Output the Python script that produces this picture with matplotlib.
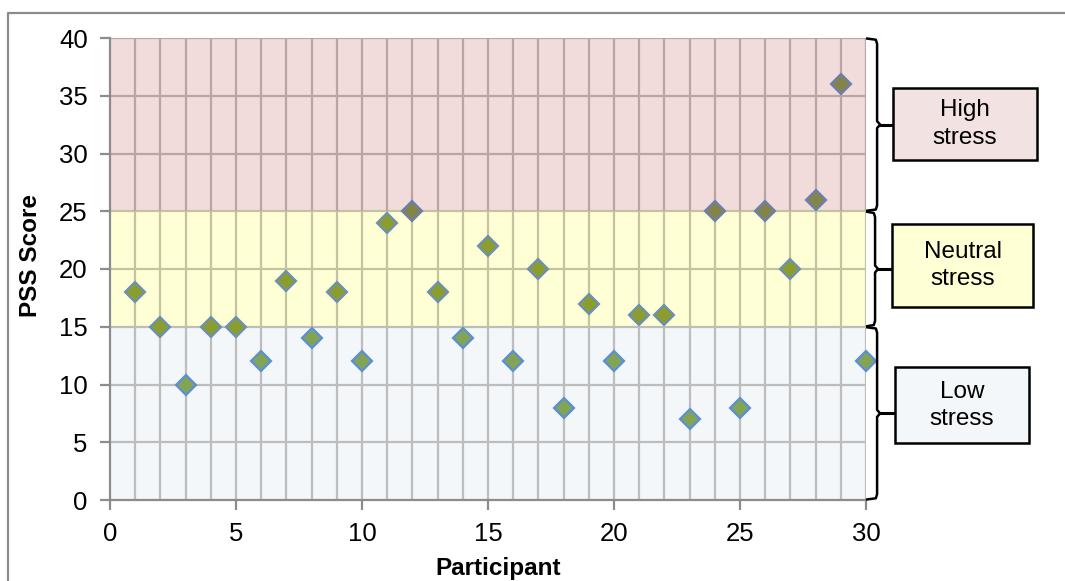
import matplotlib.pyplot as plt
from matplotlib.lines import Line2D
from matplotlib.patches import Rectangle
import numpy as np

plt.rcParams['font.family'] = ['Liberation Sans', 'DejaVu Sans']

# PSS score per participant
participants = list(range(1, 31))
pss = [18, 15, 10, 15, 15, 12, 19, 14, 18, 12,
       24, 25, 18, 14, 22, 12, 20, 8, 17, 12,
       16, 16, 7, 25, 8, 25, 20, 26, 36, 12]

# stress bands: name, low, high
band_names = ['Low\nstress', 'Neutral\nstress', 'High\nstress']
band_lo = [0, 15, 25]
band_hi = [15, 25, 40]
band_fill = ['#f3f7f9', '#ffffd5', '#f2dcdb']
band_grid = ['#bdbdbd', '#c4c3a0', '#bba4a4']
band_face = ['#83a455', '#8a9d2e', '#84834a']
band_edge = ['#5b8fd8', '#6c8fb5', '#6a7fb0']
box_fill = ['#f3f7f9', '#ffffd5', '#f2e2e2']

fig = plt.figure(figsize=(10.65, 5.81), dpi=100)
ax = fig.add_axes([110/1065, 81/581, 756/1065, 462/581])
ax.set_xlim(0, 30)
ax.set_ylim(0, 40)

for lo, hi, fc, gc in zip(band_lo, band_hi, band_fill, band_grid):
    ax.axhspan(lo, hi, color=fc, zorder=0, lw=0)
    ax.vlines(np.arange(1, 31), lo, hi, color=gc, lw=1.6, zorder=1)
    ax.hlines(np.arange(lo + 5, hi + 1, 5), 0, 30, color=gc, lw=1.6, zorder=1)

# points coloured by the band they sit in
for x, y in zip(participants, pss):
    i = 0 if y < 15 else (1 if y < 25 else 2)
    ax.plot(x, y, 'D', ms=10.5, mfc=band_face[i], mec=band_edge[i],
            mew=1.6, zorder=3, clip_on=False)

for s in ['top', 'right']:
    ax.spines[s].set_visible(False)
for s in ['left', 'bottom']:
    ax.spines[s].set_color('#8c8c8c')
    ax.spines[s].set_linewidth(1.6)
ax.set_xticks(range(0, 31, 5))
ax.set_yticks(range(0, 41, 5))
ax.tick_params(direction='out', length=7, width=1.6, color='#8c8c8c',
               labelsize=18.5, pad=9)

ax.set_ylabel('PSS Score', fontsize=17.5, fontweight='bold')
ax.yaxis.set_label_coords(-68/756, 0.53)
fig.text(498/1065, 1 - 568/581, 'Participant', fontsize=17.5,
         fontweight='bold', ha='center', va='center')

# braces and labelled boxes to the right of the plot
box_x = [(31.15, 36.47), (31.03, 36.63), (31.07, 36.79)]
box_y = [(4.94, 11.5), (16.7, 23.9), (29.44, 35.67)]
brace_x = [30.44, 30.36, 30.44]
for i in range(3):
    lo, hi = band_lo[i], band_hi[i]
    mid = (lo + hi) / 2
    bx = brace_x[i]
    xs = [30.05, bx - 0.05, bx, bx, bx + 0.12, bx, bx, bx - 0.05, 30.05]
    ys = [hi - 0.05, hi - 0.15, hi - 0.5, mid + 0.3, mid, mid - 0.3,
          lo + 0.5, lo + 0.15, lo + 0.05]
    ax.plot(xs, ys, color='black', lw=1.8, clip_on=False, zorder=4)
    x0, x1 = box_x[i]
    y0, y1 = box_y[i]
    ax.plot([bx + 0.1, x0], [mid, mid], color='black', lw=2.2,
            clip_on=False, zorder=4)
    ax.add_patch(Rectangle((x0, y0), x1 - x0, y1 - y0, facecolor=box_fill[i],
                           edgecolor='black', lw=1.8, clip_on=False, zorder=4))
    ax.text((x0 + x1) / 2, (y0 + y1) / 2, band_names[i], ha='center',
            va='center', fontsize=17.5, linespacing=1.3, zorder=5)

# outer frame
fx = 7.5 / 1065
fy = 1 - 12.5 / 581
fig.add_artist(Line2D([fx, fx, 1], [0, fy, fy], color='#8c8c8c', lw=1.6,
                      transform=fig.transFigure))

fig.savefig('out.png', dpi=100)
